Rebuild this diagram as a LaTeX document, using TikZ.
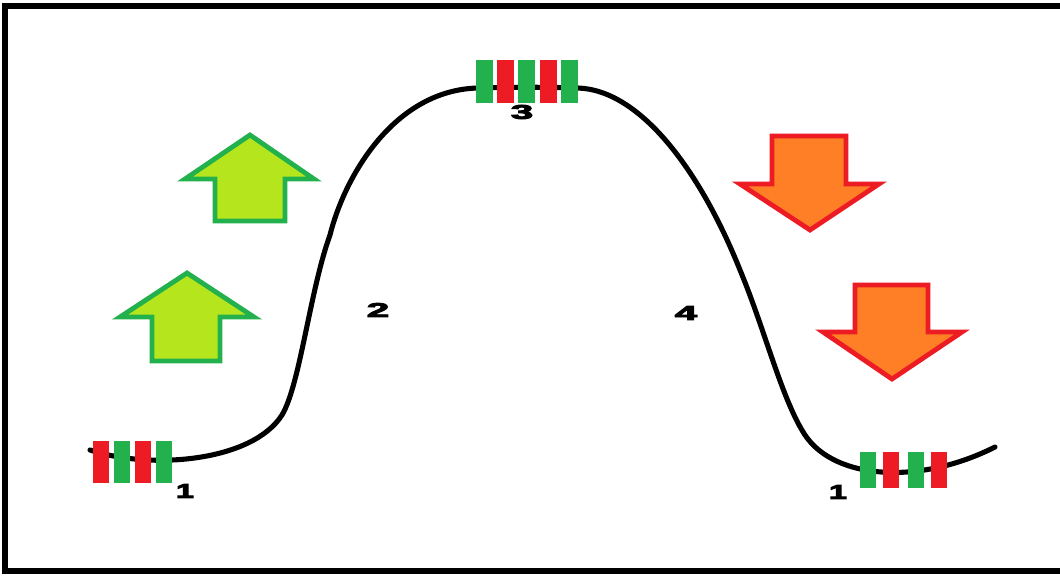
\documentclass[tikz,border=0pt]{standalone}
\usepackage{fontspec}
\setmainfont{Liberation Sans}
\newfontfamily\digitfont[FakeBold=4]{Liberation Sans Bold}
\definecolor{pgreen}{HTML}{22B14C}
\definecolor{pred}{HTML}{ED1C24}
\definecolor{plime}{HTML}{B5E61D}
\definecolor{porange}{HTML}{FF7F27}
\begin{document}
\begin{tikzpicture}[x=0.75pt,y=-0.75pt,
  bar/.style={draw=none,inner sep=0pt,minimum width=12pt,anchor=north west},
  gbar/.style={bar,fill=pgreen},
  rbar/.style={bar,fill=pred},
  upar/.style={draw=pgreen,fill=plime,line width=3.6pt,line join=miter},
  downar/.style={draw=pred,fill=porange,line width=3.6pt,line join=miter},
  digit/.style={font=\fontsize{15}{15}\selectfont\digitfont,inner sep=0pt}]
\useasboundingbox (0,0) rectangle (1060,575);
\fill[white] (0,0) rectangle (1060,575);
% frame, open to the right
\begin{scope}
\clip (0,0) rectangle (1060,575);
\draw[line width=4.2pt] (1080,6) -- (5,6) -- (5,571) -- (1080,571);
\end{scope}

% the potential curve
\draw[line width=3.8pt,line cap=round]
  (90,450) .. controls (150,470) and (252,462) .. (282,415)
  .. controls (300,385) and (310,290) .. (330,235)
  .. controls (345,175) and (395,90) .. (478,88)
  .. controls (510,87) and (545,87) .. (578,88)
  .. controls (640,90) and (700,170) .. (740,270)
  .. controls (765,330) and (782,400) .. (805,435)
  .. controls (835,480) and (920,485) .. (995,447);

% left group of bars
\node[rbar,minimum height=31pt] (l1) at (93,441) {};
\node[gbar,minimum height=31pt] (l2) at (114,441) {};
\node[rbar,minimum height=31pt] (l3) at (135,441) {};
\node[gbar,minimum height=31pt] (l4) at (156,441) {};
% top group of bars
\node[gbar,minimum height=32pt,minimum width=12.75pt] (t1) at (476,60) {};
\node[rbar,minimum height=32pt,minimum width=12.75pt] (t2) at (497,60) {};
\node[gbar,minimum height=32pt,minimum width=12.75pt] (t3) at (518,60) {};
\node[rbar,minimum height=32pt,minimum width=12.75pt] (t4) at (540,60) {};
\node[gbar,minimum height=32pt,minimum width=12.75pt] (t5) at (561,60) {};
% right group of bars
\node[gbar,minimum height=26.5pt] (r1) at (860,452) {};
\node[rbar,minimum height=26.5pt] (r2) at (883,452) {};
\node[gbar,minimum height=26.5pt] (r3) at (908,452) {};
\node[rbar,minimum height=26.5pt] (r4) at (931,452) {};

% labels
\node[digit] (n1a) at (185,491) {\scalebox{1.6}[1]{1}};
\node[digit] (n3) at (522,112) {\scalebox{2.0}[1]{3}};
\node[digit] (n1b) at (838,492) {\scalebox{1.6}[1]{1}};
\node[digit] (n2) at (378,310) {\scalebox{2.0}[1]{2}};
\node[digit] (n4) at (686,313) {\scalebox{2.0}[1]{4}};

% rising arrows
\draw[upar] (250,135) -- (314,179) -- (285,179) -- (285,221) -- (215,221)
  -- (215,179) -- (185,179) -- cycle;
\draw[upar] (187,273) -- (254,317) -- (220,317) -- (220,361) -- (152,361)
  -- (152,317) -- (120,317) -- cycle;
% falling arrows
\draw[downar] (772,136) -- (846,136) -- (846,184) -- (879,184) -- (810,230)
  -- (740,184) -- (772,184) -- cycle;
\draw[downar] (855,285) -- (928,285) -- (928,332) -- (962,332) -- (892,379)
  -- (823,332) -- (855,332) -- cycle;
\end{tikzpicture}
\end{document}
